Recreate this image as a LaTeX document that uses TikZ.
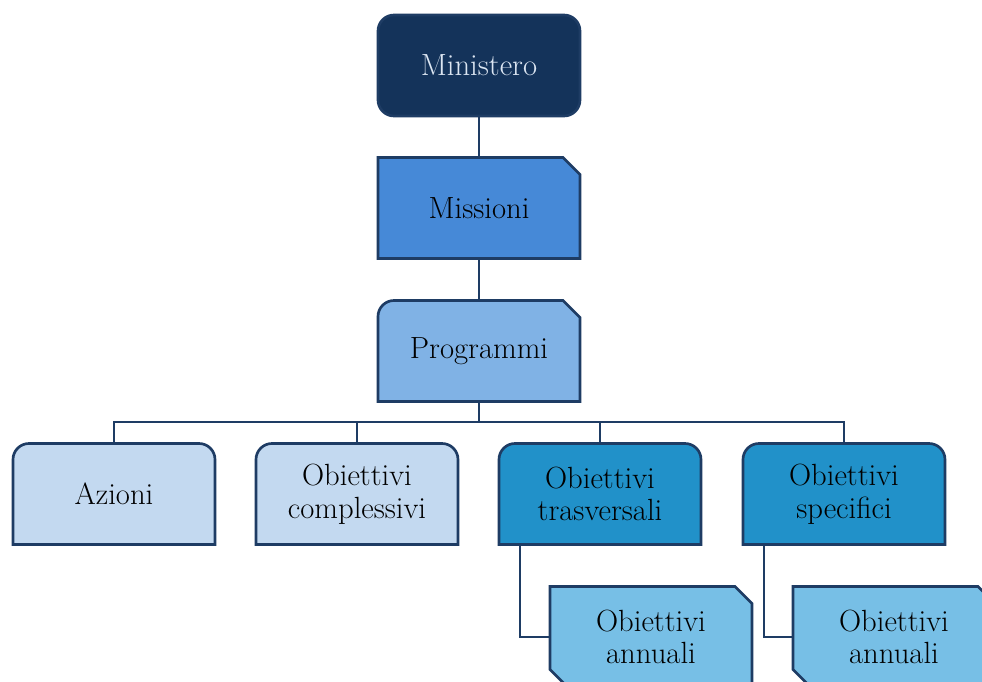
\documentclass[tikz,border=0pt]{standalone}
\usepackage{tikz}
\usetikzlibrary{backgrounds}
\definecolor{linenavy}{HTML}{1E3C64}
\definecolor{ministero}{HTML}{14335A}
\definecolor{ministerotext}{HTML}{DCE6F2}
\definecolor{missioni}{HTML}{4689D7}
\definecolor{programmi}{HTML}{80B2E5}
\definecolor{pale}{HTML}{C3D9F0}
\definecolor{deep}{HTML}{2191C9}
\definecolor{annuali}{HTML}{77BFE6}

\begin{document}
\begin{tikzpicture}[x=0.75pt,y=-0.75pt,
		lbl/.style={minimum width=151.5pt,minimum height=75.75pt,inner sep=0pt,outer sep=0pt,
			align=center,font=\fontsize{23}{24.5}\selectfont},
		link/.style={draw=linenavy,line width=2pt},
		boxfill/.style={link,fill=#1}]
	\path[use as bounding box] (0,0) rectangle (982,682);

	\node[lbl,link,fill=ministero,text=ministerotext,rounded corners=12pt] (min) at (479,65.5) {Ministero};
	\node[lbl] (mis) at (479,208) {Missioni};
	\node[lbl] (prog) at (479,351) {Programmi};
	\node[lbl] (az) at (114,494) {Azioni};
	\node[lbl] (comp) at (357,494) {Obiettivi\\complessivi};
	\node[lbl] (tras) at (600,494) {Obiettivi\\trasversali};
	\node[lbl] (spec) at (844,494) {Obiettivi\\specifici};
	\node[lbl] (ann1) at (651,637) {Obiettivi\\annuali};
	\node[lbl] (ann2) at (894,637) {Obiettivi\\annuali};
	\coordinate (bus) at (479,422);

	\begin{scope}[on background layer]
		\draw[boxfill=missioni] (mis.south west) -- (mis.north west) -- ++(185,0) -- ++(17,17) -- (mis.south east) -- cycle;
		\draw[boxfill=programmi] (prog.south west) [rounded corners=12pt] -- (prog.north west) [sharp corners] -- ++(185,0) -- ++(17,17) -- (prog.south east) -- cycle;
		\foreach \n/\c in {az/pale,comp/pale,tras/deep,spec/deep}
			\draw[boxfill=\c] (\n.south west) [rounded corners=12pt] -- (\n.north west) -- (\n.north east) [sharp corners] -- (\n.south east) -- cycle;
		\foreach \n in {ann1,ann2}
			\draw[boxfill=annuali] (\n.south west) ++(0,-18) -- (\n.north west) -- ++(185,0) -- ++(17,17) -- (\n.south east) -- ++(-184,0) -- cycle;
	\end{scope}

	\draw[link] (min) -- (mis);
	\draw[link] (mis) -- (prog);
	\draw[link] (prog.south) -- (bus);
	\foreach \n in {az,comp,tras,spec}
		\draw[link] (bus) -| (\n.north);
	\draw[link] (tras.south west) ++(21,0) |- (ann1.west);
	\draw[link] (spec.south west) ++(21,0) |- (ann2.west);
\end{tikzpicture}
\end{document}
